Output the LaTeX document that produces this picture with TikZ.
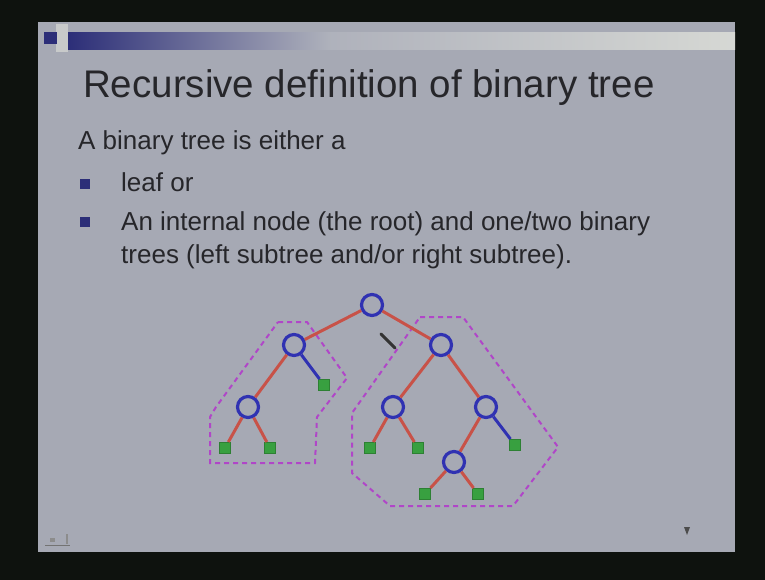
\documentclass[tikz,border=0pt]{standalone}
\usepackage{fontspec}
\setmainfont{Liberation Sans}
\definecolor{frame}{RGB}{14,18,14}
\definecolor{slide}{RGB}{166,169,180}
\definecolor{navy}{RGB}{44,46,120}
\definecolor{barlight}{RGB}{214,216,212}
\definecolor{txt}{RGB}{38,38,42}
\definecolor{nodeblue}{RGB}{48,50,178}
\definecolor{edgered}{RGB}{200,82,72}
\definecolor{leafgreen}{RGB}{56,160,64}
\definecolor{dashmag}{RGB}{176,70,200}
\tikzset{
  inner/.style={circle, draw=nodeblue, line width=3.2pt, minimum size=21pt, inner sep=0pt},
  leaf/.style={rectangle, draw=leafgreen!80!black, fill=leafgreen, line width=1pt, minimum size=11pt, inner sep=0pt},
  redge/.style={draw=edgered, line width=3pt},
  bedge/.style={draw=nodeblue, line width=3pt},
  hull/.style={draw=dashmag, line width=2pt, dash pattern=on 5pt off 4pt},
  bodytext/.style={anchor=base west, inner sep=0pt, text=txt, font=\fontsize{26}{30}\selectfont},
  bulletsq/.style={rectangle, fill=navy, minimum size=10pt, inner sep=0pt}
}
\begin{document}
\begin{tikzpicture}[x=1pt,y=-1pt]
\useasboundingbox (0,0) rectangle (765,580);
\fill[frame] (0,0) rectangle (765,580);
\fill[slide] (38,22) rectangle (735,552);
% title bar
\fill[barlight!70!slide] (56,24) rectangle (68,52);
\shade[left color=navy, right color=slide!90!white] (68,33) rectangle (330,50);
\shade[left color=slide!90!white, right color=barlight] (330,33) rectangle (735,50);
\fill[navy] (44,32) rectangle (57,44);
% title
\node[anchor=base west, inner sep=0pt, text=txt, font=\fontsize{38.5}{44}\selectfont] (title) at (83,98) {Recursive definition of binary tree};
% body
\node[bodytext] (intro) at (78,150) {A binary tree is either a};
\node[bulletsq] (b1) at (85,184) {};
\node[bodytext] (t1) at (121,192) {leaf or};
\node[bulletsq] (b2) at (85,222) {};
\node[bodytext] (t2) at (121,230) {An internal node (the root) and one/two binary};
\node[bodytext] (t3) at (121,263) {trees (left subtree and/or right subtree).};
% hulls
\draw[hull] (278,322) -- (307,322) -- (347,378) -- (317,417) -- (315,463) -- (210,463) -- (210,417) -- (216,407) -- cycle;
\draw[hull] (420,317) -- (463,317) -- (558,447) -- (513,506) -- (390,506) -- (352,473) -- (352,413) -- cycle;
% tree nodes
\node[inner] (r) at (372,305) {};
\node[inner] (a) at (294,345) {};
\node[inner] (b) at (441,345) {};
\node[inner] (c) at (248,407) {};
\node[leaf] (d) at (324,385) {};
\node[leaf] (c1) at (225,448) {};
\node[leaf] (c2) at (270,448) {};
\node[inner] (e) at (393,407) {};
\node[inner] (f) at (486,407) {};
\node[leaf] (e1) at (370,448) {};
\node[leaf] (e2) at (418,448) {};
\node[leaf] (f2) at (515,445) {};
\node[inner] (g) at (454,462) {};
\node[leaf] (g1) at (425,494) {};
\node[leaf] (g2) at (478,494) {};
% edges
\draw[redge] (r) -- (a);
\draw[redge] (r) -- (b);
\draw[redge] (a) -- (c);
\draw[bedge] (a) -- (d);
\draw[redge] (c) -- (c1);
\draw[redge] (c) -- (c2);
\draw[redge] (b) -- (e);
\draw[redge] (b) -- (f);
\draw[redge] (e) -- (e1);
\draw[redge] (e) -- (e2);
\draw[redge] (f) -- (g);
\draw[bedge] (f) -- (f2);
\draw[redge] (g) -- (g1);
\draw[redge] (g) -- (g2);
% pen mark
\draw[line width=3pt, black!80, line cap=round] (381,334) -- (395,348);
% bottom decorations
\draw[black!55, line width=1pt] (45,545) -- (70,545);
\fill[black!45] (50,538) rectangle (55,542);
\fill[black!45] (66,534) rectangle (68,544);
\fill[black!70] (684,527) -- (690,527) -- (687,535) -- cycle;
\end{tikzpicture}
\end{document}
